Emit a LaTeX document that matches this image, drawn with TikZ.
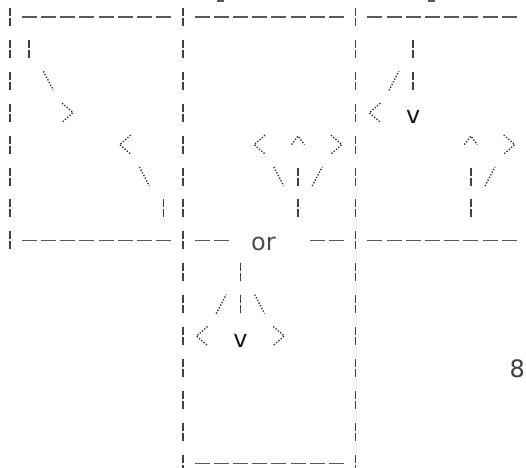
\documentclass[tikz,border=0pt]{standalone}
\usepackage{fontspec}
\newfontfamily\lblfont{DejaVu Sans}
\newcommand{\asbar}[2]{\draw[barline] ({10+19.2*(#1)},{17+31.9*(#2)-9}) -- ++(0,8) ++(0,2) -- ++(0,8);}
\newcommand{\asdash}[2]{\draw[dashline] ({10+19.2*(#1)-7.5},{17+31.9*(#2)}) -- ++(15,0);}
\newcommand{\asbslash}[2]{\draw[dotline] ({10+19.2*(#1)-5},{17+31.9*(#2)-9.5}) -- ++(10,19);}
\newcommand{\asslash}[2]{\draw[dotline] ({10+19.2*(#1)-5},{17+31.9*(#2)+9.5}) -- ++(10,-19);}
\newcommand{\aslt}[2]{\draw[dotline] ({10+19.2*(#1)+5.5},{17+31.9*(#2)-9.5}) -- ++(-11,9.5) -- ++(11,9.5);}
\newcommand{\asgt}[2]{\draw[dotline] ({10+19.2*(#1)-5.5},{17+31.9*(#2)-9.5}) -- ++(11,9.5) -- ++(-11,9.5);}
\newcommand{\ascaret}[2]{\draw[dotline] ({10+19.2*(#1)-6.5},{17+31.9*(#2)}) -- ++(6.5,-8.5) -- ++(6.5,8.5);}
\begin{document}
\begin{tikzpicture}[x=1pt,y=-1pt,
  barline/.style={draw=black!75,line width=1.6pt},
  dashline/.style={draw=black!65,line width=1.3pt},
  dotline/.style={draw=black!80,line width=1.4pt,dash pattern=on 1.3pt off 1.7pt},
  lbl/.style={font=\lblfont\fontsize{24}{24}\selectfont,text=black!80,inner sep=0pt,anchor=base}]
\fill[white] (0,0) rectangle (526,467);
\useasboundingbox (0,0) rectangle (526,467);
% frame bars
\foreach \r in {0,...,7} {\asbar{0}{\r} \asbar{27}{\r}}
\foreach \r in {0,...,14} {\asbar{9}{\r} \asbar{18}{\r}}
% dashes
\foreach \c in {1,...,8,10,11,...,17,19,20,...,26} {\asdash{\c}{0}}
\foreach \c in {1,...,8,10,11,16,17,19,20,...,26} {\asdash{\c}{7}}
\foreach \c in {10,...,17} {\asdash{\c}{14}}
% box 1
\asbar{1}{1}
\asbslash{2}{2}
\asgt{3}{3}
\aslt{6}{4}
\asbslash{7}{5}
\asbar{8}{6}
% box 2
\aslt{13}{4}
\ascaret{15}{4}
\asgt{17}{4}
\asbslash{14}{5}
\asbar{15}{5}
\asslash{16}{5}
\asbar{15}{6}
% box 3
\asbar{21}{1}
\asslash{20}{2}
\asbar{21}{2}
\aslt{19}{3}
\node[lbl,text=black!90] (v1) at (413.2,123.2) {v};
\ascaret{24}{4}
\asgt{26}{4}
\asbar{24}{5}
\asslash{25}{5}
\asbar{24}{6}
% box 4
\asbar{12}{8}
\asslash{11}{9}
\asbar{12}{9}
\asbslash{13}{9}
\aslt{10}{10}
\node[lbl,text=black!90] (v2) at (240.4,347) {v};
\asgt{14}{10}
% texts
\node[lbl,text=black!70] (or) at (263.5,250) {or};
\node[lbl,anchor=base east,text=black!75] (eight) at (525,377) {8};
% cut-off marks at top edge
\draw[dashline,line width=2pt] (217,1) -- (224,1);
\draw[dashline,line width=2pt] (428,1) -- (435,1);
\end{tikzpicture}
\end{document}
